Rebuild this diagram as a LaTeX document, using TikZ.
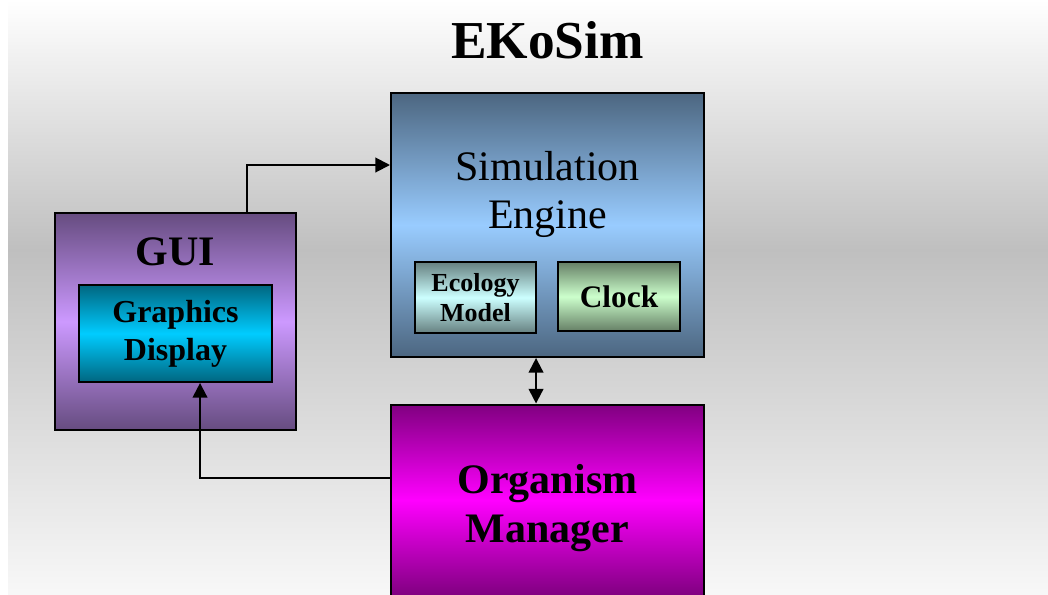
\documentclass[tikz,border=0pt]{standalone}
\usepackage{fontspec}
\setmainfont{Liberation Serif}
\usetikzlibrary{arrows.meta}
\pgfdeclareverticalshading{backfade}{100bp}{color(0bp)=(white!97!black); color(25bp)=(white!97!black); color(54bp)=(gray!50); color(75bp)=(white); color(100bp)=(white)}
\definecolor{guidark}{HTML}{664C80}
\definecolor{guilight}{HTML}{CC99FF}
\definecolor{gddark}{HTML}{006680}
\definecolor{gdlight}{HTML}{00CCFF}
\definecolor{simdark}{HTML}{4C6680}
\definecolor{simlight}{HTML}{99CCFF}
\definecolor{ecodark}{HTML}{668080}
\definecolor{ecolight}{HTML}{CCFFFF}
\definecolor{clkdark}{HTML}{668066}
\definecolor{clklight}{HTML}{CCFFCC}
\definecolor{omdark}{HTML}{800080}
\definecolor{omlight}{HTML}{FF00FF}
\begin{document}
\begin{tikzpicture}[x=0.75pt, y=-0.75pt,
    box/.style={draw=black, line width=1.5pt, rectangle, inner sep=0pt, align=center},
    fade/.style 2 args={top color=#1, bottom color=#1, middle color=#2},
    wire/.style={line width=1.5pt, -{Triangle[length=11pt,width=11pt]}}]
    \useasboundingbox (0,0) rectangle (1048,594);
    \shade[shading=backfade] (8,0) rectangle (1048,594);
    \node[anchor=base, font=\fontsize{40}{48}\selectfont\bfseries] (title) at (547.5,58) {EKoSim};
    \node[box, fade={guidark}{guilight}, minimum width=180.75pt, minimum height=162.75pt] (gui) at (175.5,321.5) {};
    \node[anchor=base, font=\fontsize{31.5}{36}\selectfont\bfseries] (guitext) at (175.5,265) {GUI};
    \node[box, fade={gddark}{gdlight}, minimum width=144.75pt, minimum height=72.75pt,
        font=\fontsize{24}{28.5}\selectfont\bfseries] (gd) at (175.5,333.5) {Graphics\\Display};
    \node[box, fade={simdark}{simlight}, minimum width=234.75pt, minimum height=198pt] (sim) at (547.5,225) {};
    \node[align=center, font=\fontsize{31.5}{36}\selectfont] (simtext) at (547.5,194) {Simulation\\Engine};
    \node[box, fade={ecodark}{ecolight}, minimum width=90.75pt, minimum height=53.25pt,
        font=\fontsize{19.5}{22.5}\selectfont\bfseries] (eco) at (475.5,297.5) {Ecology\\Model};
    \node[box, fade={clkdark}{clklight}, minimum width=91.5pt, minimum height=51.75pt,
        font=\fontsize{23.5}{28}\selectfont\bfseries] (clock) at (619,296.5) {Clock};
    \node[box, fade={omdark}{omlight}, minimum width=234.75pt, minimum height=143.25pt] (om) at (547.5,500) {};
    \node[align=center, font=\fontsize{31.5}{36.75}\selectfont\bfseries] (omtext) at (547.5,508) {Organism\\Manager};
    \draw[wire] ([xshift=53.6pt]gui.north) |- ([yshift=45pt]sim.west);
    \draw[wire, {Triangle[length=11pt,width=11pt]}-{Triangle[length=11pt,width=11pt]}] ([xshift=-8.6pt]sim.south) -- ([xshift=-8.6pt]om.north);
    \draw[wire] ([yshift=16.5pt]om.west) -| ([xshift=18.4pt]gd.south);
\end{tikzpicture}
\end{document}
